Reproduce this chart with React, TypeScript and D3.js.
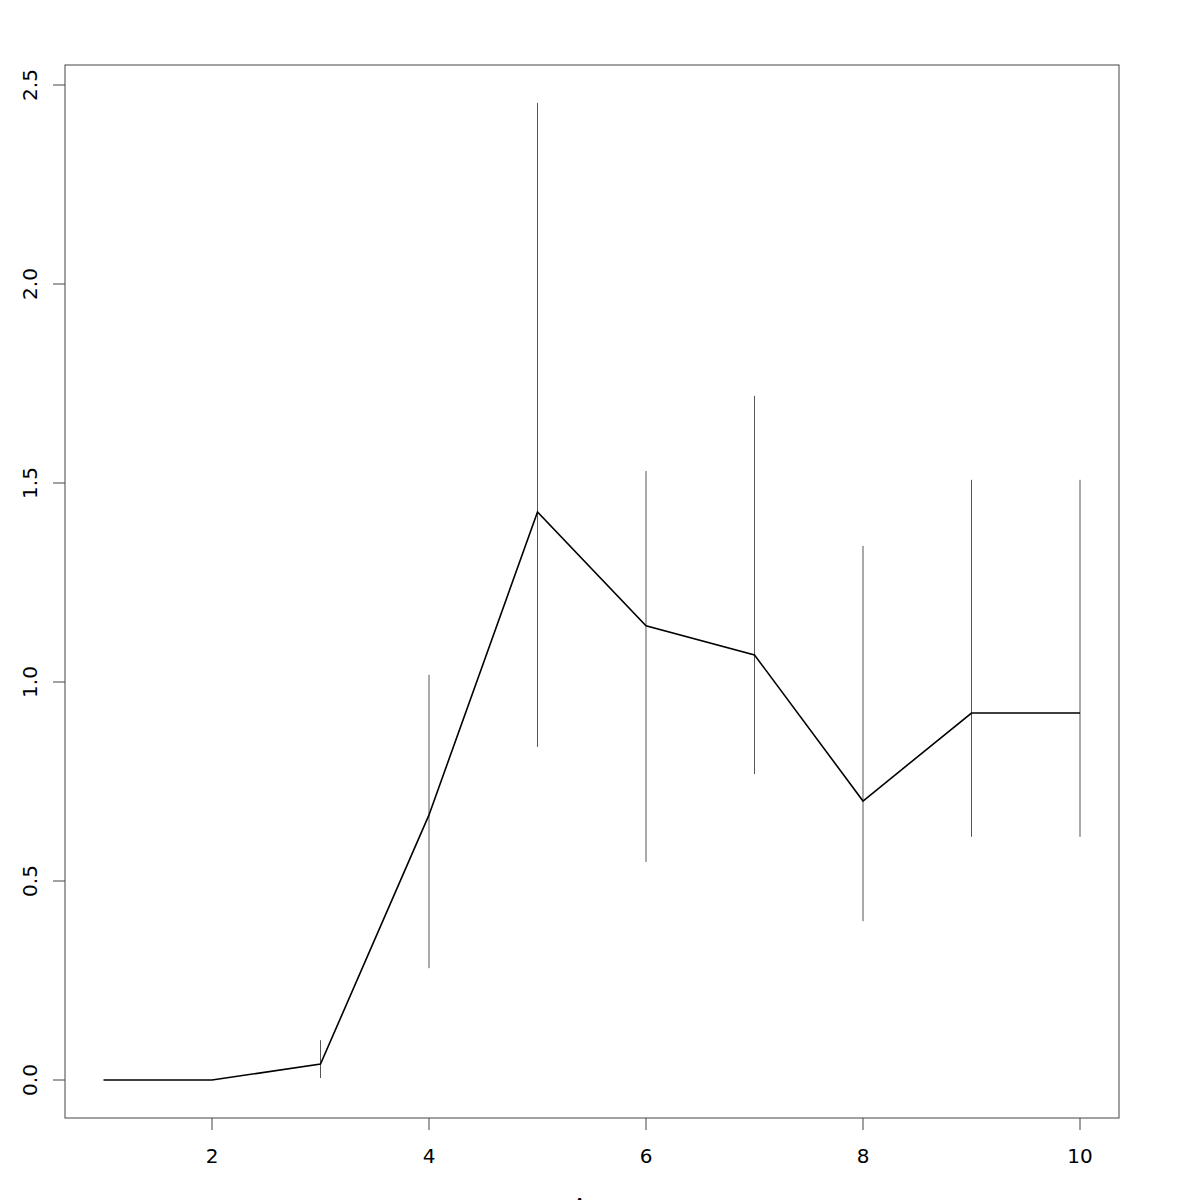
import React from "react";
import * as d3 from "d3";

const ages = [1, 2, 3, 4, 5, 6, 7, 8, 9, 10];
const means = [0, 0, 0.04, 0.666, 1.427, 1.141, 1.068, 0.701, 0.922, 0.922];
const lower = [null, null, 0.005, 0.281, 0.837, 0.548, 0.769, 0.399, 0.611, 0.611];
const upper = [null, null, 0.1, 1.018, 2.455, 1.53, 1.719, 1.342, 1.508, 1.508];
const xTicks = [2, 4, 6, 8, 10];
const yTicks = [0, 0.5, 1, 1.5, 2, 2.5];
const xLabel = "Age";

export default function App() {
  const W = 1200, H = 1200;
  const left = 65, right = 1119, top = 65, bottom = 1118;
  const x = d3.scale ? null : null;
  const xs = d3.scaleLinear().domain([1, 10]).range([103.5, 1080]);
  const ys = d3.scaleLinear().domain([0, 2.5]).range([1080, 85]);
  const line = d3.line<number>().x((_, i) => xs(ages[i])).y((d) => ys(d));
  const font = "DejaVu Sans, sans-serif";
  return (
    <svg width={W} height={H} style={{ position: "absolute", left: 0, top: 0, background: "#fff" }}>
      <rect x={left} y={top} width={right - left} height={bottom - top} fill="none" stroke="#444" strokeWidth={1} />
      {xTicks.map((t) => (
        <g key={"x" + t}>
          <line x1={xs(t)} x2={xs(t)} y1={bottom} y2={bottom + 12} stroke="#444" />
          <text x={xs(t)} y={1163} fontSize={20} fontFamily={font} textAnchor="middle">{t}</text>
        </g>
      ))}
      {yTicks.map((t) => (
        <g key={"y" + t}>
          <line x1={left - 12} x2={left} y1={ys(t)} y2={ys(t)} stroke="#444" />
          <text transform={`translate(37,${ys(t)}) rotate(-90)`} fontSize={20} fontFamily={font} textAnchor="middle">{t.toFixed(1)}</text>
        </g>
      ))}
      {ages.map((a, i) =>
        lower[i] != null ? (
          <line key={"e" + a} x1={xs(a)} x2={xs(a)} y1={ys(lower[i] as number)} y2={ys(upper[i] as number)} stroke="#555" strokeWidth={1} />
        ) : null
      )}
      <path d={line(means) || ""} fill="none" stroke="#000" strokeWidth={1.6} />
      <text x={592} y={1212} fontSize={20} fontFamily={font} textAnchor="middle">{xLabel}</text>
    </svg>
  );
}
